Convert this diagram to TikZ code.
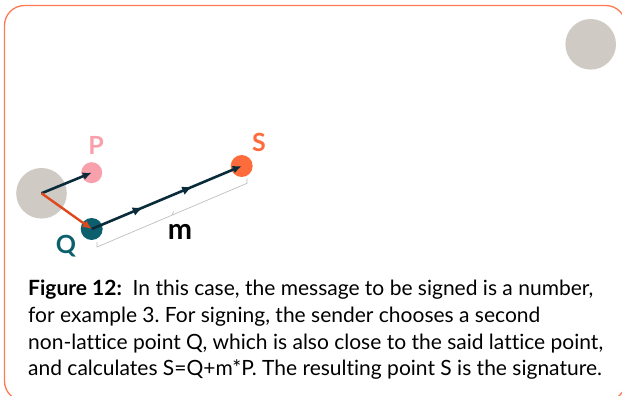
\documentclass[tikz,border=0pt]{standalone}
\usepackage{fontspec}
\setmainfont{Lato}[Ligatures=NoCommon]
\usetikzlibrary{arrows.meta, positioning, calc, decorations.markings}

\definecolor{frameorange}{RGB}{255,122,82}
\definecolor{latticegray}{RGB}{207,203,196}
\definecolor{ppink}{RGB}{248,160,172}
\definecolor{qteal}{RGB}{12,96,110}
\definecolor{sorange}{RGB}{255,108,60}
\definecolor{arrowdark}{RGB}{10,44,58}
\definecolor{arrowred}{RGB}{222,72,28}
\definecolor{bracegray}{RGB}{190,190,190}

\begin{document}
\frenchspacing
\begin{tikzpicture}[
    x=1pt, y=-1pt,
    >={Latex[length=9pt,width=8pt]},
    lattice/.style={circle, fill=latticegray, minimum size=50.6pt, inner sep=0pt},
    dot/.style={circle, minimum size=21pt, inner sep=0pt},
    vec/.style={->, line width=2.6pt, draw=arrowdark},
    lbl/.style={font=\fontsize{25}{25}\selectfont\bfseries},
    brace/.style={draw=bracegray, line width=0.7pt},
    midarrows/.style={postaction={decorate}, decoration={markings,
        mark=at position 0.34 with {\arrow{Latex[length=10pt,width=9pt]}},
        mark=at position 0.67 with {\arrow{Latex[length=10pt,width=9pt]}}}}
]
\useasboundingbox (0,0) rectangle (622,396);

% Frame
\draw[frameorange, line width=1.3pt, rounded corners=20pt] (4.5,5.5) rectangle (625.7,401);

% Lattice points
\node[lattice] (corner) at (590.7,44.3) {};
\node[lattice] (origin) at (41.5,193.3) {};

% Points P, Q, S
\node[dot, fill=ppink] (P) at (91.7,172.7) {};
\node[dot, fill=qteal, minimum size=22pt] (Q) at (91.7,229) {};
\node[dot, fill=sorange, minimum size=22pt] (S) at (241.7,166) {};

% Labels
\node[lbl, text=ppink] (Plbl) at (96,145) {P};
\node[lbl, text=sorange] (Slbl) at (259,142) {S};
\node[lbl, text=qteal] (Qlbl) at (66,246) {Q};
\node[lbl, text=black, font=\fontsize{29}{29}\selectfont\bfseries] (mlbl) at (180,232) {m};

% Vectors
\draw[vec] (origin.center) -- (P.center);
\draw[vec, draw=arrowred, line width=2.4pt] (origin.center) -- (Q.center);
\draw[vec, midarrows] (Q.center) -- (S.center);

% Brace for m
\coordinate (b1) at (97,247);
\coordinate (b2) at (247,183.3);
\draw[brace] ($(b1)+(0,-5)$) -- (b1) -- (b2) -- ($(b2)+(0,-5)$);
\draw[brace] ($(b1)!0.5!(b2)$) -- ++(1.6,-3.8);

% Caption
\node[anchor=north west, inner sep=0pt, align=left,
      font=\fontsize{21}{26.7}\selectfont] (caption) at (28,280)
{\textbf{Figure 12:}\ \ In this case, the message to be signed is a number,\\
for example 3. For signing, the sender chooses a second\\
non-lattice point Q, which is also close to the said lattice point,\\
and calculates S=Q+m*P. The resulting point S is the signature.};
\end{tikzpicture}
\end{document}
